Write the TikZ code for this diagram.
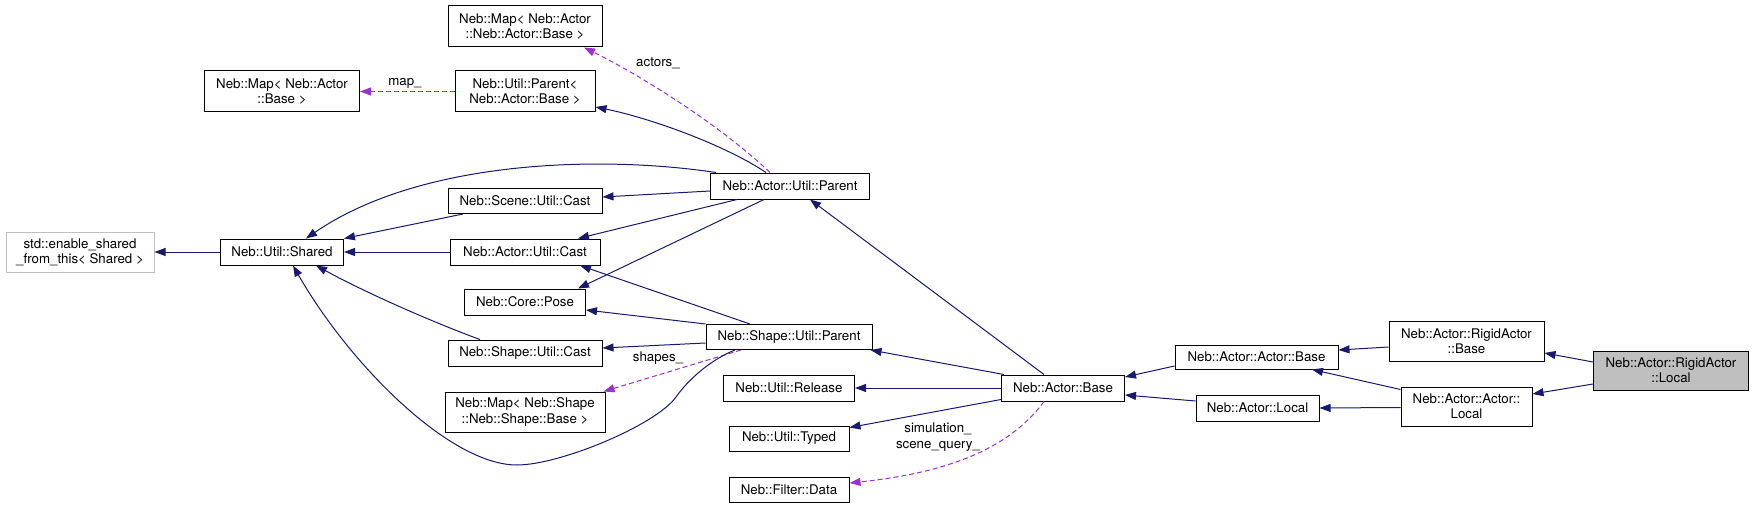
\documentclass[tikz,border=0pt]{standalone}
\usepackage{fontspec}
\setmainfont{TeX Gyre Heros}
\usetikzlibrary{arrows.meta}
\definecolor{edgeblue}{HTML}{191970}
\definecolor{usepurple}{HTML}{9A32CD}
\definecolor{grayline}{HTML}{BFBFBF}
\definecolor{grayfill}{HTML}{BFBFBF}
\tikzset{
  cls/.style={draw=black, line width=1pt, fill=white, inner sep=0pt, align=center,
    font=\fontsize{13.3}{15.3}\selectfont, text=black},
  inh/.style={draw=edgeblue, line width=1pt, -{Triangle[length=11pt,width=8pt]}},
  usage/.style={draw=usepurple, line width=1pt, dash pattern=on 5pt off 3pt,
    -{Triangle[length=11pt,width=8pt]}},
  lbl/.style={inner sep=0pt, align=center, font=\fontsize{13.3}{15.3}\selectfont, text=black}
}
\begin{document}
\begin{tikzpicture}[x=1pt,y=-1pt]
\useasboundingbox[fill=white] (0,0) rectangle (1755,508);
% nodes
\node[cls, minimum width=154pt, minimum height=41pt] (mapActor) at (525,26.5) {Neb::Map< Neb::Actor\\::Neb::Actor::Base >};
\node[cls, minimum width=155pt, minimum height=41pt] (mapBase) at (282,91.5) {Neb::Map< Neb::Actor\\::Base >};
\node[cls, minimum width=140pt, minimum height=41pt] (utilParent) at (525,91.5) {Neb::Util::Parent<\\Neb::Actor::Base >};
\node[cls, minimum width=159pt, minimum height=26pt] (actorParent) at (790,186) {Neb::Actor::Util::Parent};
\node[cls, minimum width=154pt, minimum height=25pt] (sceneCast) at (525,201) {Neb::Scene::Util::Cast};
\node[cls, draw=grayline, minimum width=148pt, minimum height=40pt] (enable) at (80,252) {std::enable\_shared\\\_from\_this< Shared >};
\node[cls, minimum width=123pt, minimum height=26pt] (shared) at (282,252) {Neb::Util::Shared};
\node[cls, minimum width=150pt, minimum height=26pt] (actorCast) at (525,252) {Neb::Actor::Util::Cast};
\node[cls, minimum width=121pt, minimum height=26pt] (pose) at (525,302) {Neb::Core::Pose};
\node[cls, minimum width=154pt, minimum height=26pt] (shapeCast) at (525,353) {Neb::Shape::Util::Cast};
\node[cls, minimum width=160pt, minimum height=40pt] (mapShape) at (525,412) {Neb::Map< Neb::Shape\\::Neb::Shape::Base >};
\node[cls, minimum width=166pt, minimum height=25pt] (shapeParent) at (789,337) {Neb::Shape::Util::Parent};
\node[cls, minimum width=131pt, minimum height=26pt] (release) at (789,388) {Neb::Util::Release};
\node[cls, minimum width=120pt, minimum height=25pt] (typed) at (789,438.5) {Neb::Util::Typed};
\node[cls, minimum width=120pt, minimum height=25pt] (filter) at (789,489.5) {Neb::Filter::Data};
\node[cls, minimum width=123pt, minimum height=26pt] (actorBase) at (1063,388) {Neb::Actor::Base};
\node[cls, minimum width=163pt, minimum height=24pt] (aaBase) at (1256.5,357) {Neb::Actor::Actor::Base};
\node[cls, minimum width=123pt, minimum height=26pt] (aLocal) at (1257.5,408) {Neb::Actor::Local};
\node[cls, minimum width=155pt, minimum height=40pt] (raBase) at (1466.5,341) {Neb::Actor::RigidActor\\::Base};
\node[cls, minimum width=131pt, minimum height=39pt] (aaLocal) at (1466.5,406.5) {Neb::Actor::Actor::\\Local};
\node[cls, fill=grayfill, minimum width=155pt, minimum height=39pt] (raLocal) at (1671,370.5) {Neb::Actor::RigidActor\\::Local};
% edges
\draw[inh] ([yshift=8.5pt]raLocal.west) -- ([yshift=-12pt]raBase.east);
\draw[inh] ([yshift=-13.5pt]raLocal.west) -- ([yshift=12.5pt]aaLocal.east);
\draw[inh] ([yshift=-6pt]raBase.west) -- ([yshift=7pt]aaBase.east);
\draw[inh] ([yshift=-3pt]aaLocal.north west) -- ([xshift=55.5pt]aaBase.south);
\draw[inh] ([yshift=-1pt]aaLocal.west) -- (aLocal.east);
\draw[inh] ([yshift=-9pt]aaBase.west) -- ([yshift=11pt]actorBase.east);
\draw[inh] ([yshift=7pt]aLocal.west) -- ([yshift=-7pt]actorBase.east);
\draw[inh] ([xshift=-19pt]actorBase.north) -- ([xshift=20pt]actorParent.south);
\draw[inh] ([xshift=3pt]actorBase.north west) -- ([xshift=-2pt]shapeParent.south east);
\draw[inh] (actorBase.west) -- (release.east);
\draw[inh] ([yshift=2pt]actorBase.south west) -- ([yshift=-2pt]typed.north east);
\draw[usage] ([xshift=-19pt]actorBase.south) .. controls (1012,445) and (955,472) .. ([yshift=6.5pt]filter.east);
\node[lbl] (lblSim) at (938,437) {simulation\_\\scene\_query\_};
\draw[inh] ([xshift=-24pt]actorParent.north) .. controls (725,145) and (650,118) .. ([yshift=-15.5pt]utilParent.east);
\draw[usage] ([xshift=-20pt]actorParent.north) .. controls (720,125) and (640,75) .. ([xshift=59pt]mapActor.south);
\node[lbl] (lblActors) at (658,63) {actors\_};
\draw[inh] ([xshift=-74pt]actorParent.north) .. controls (600,155) and (420,160) .. ([xshift=24pt]shared.north);
\draw[inh] ([yshift=-5pt]actorParent.west) -- ([yshift=4pt]sceneCast.east);
\draw[inh] ([xshift=-53pt]actorParent.south) -- ([xshift=53pt]actorCast.north);
\draw[inh] ([xshift=-26pt]actorParent.south) -- ([xshift=53pt]pose.north);
\draw[inh] ([xshift=-39pt]shapeParent.north) -- ([xshift=55pt]actorCast.south);
\draw[inh] (shapeParent.north west) -- ([yshift=-8pt]pose.east);
\draw[inh] ([yshift=-6pt]shapeParent.west) -- ([yshift=5pt]shapeCast.east);
\draw[usage] ([xshift=-48pt]shapeParent.south) -- ([xshift=-2pt]mapShape.north east);
\node[lbl] (lblShapes) at (658,358) {shapes\_};
\draw[inh] ([xshift=-54pt]shapeParent.south) .. controls (710,360) and (688,380) .. (676,397)
  .. controls (656,425) and (560,465) .. (517,465)
  .. controls (450,465) and (350,365) .. ([xshift=11pt]shared.south);
\draw[inh] ([xshift=-62pt]sceneCast.south) -- (shared.north east);
\draw[inh] (actorCast.west) -- (shared.east);
\draw[inh] ([xshift=-45pt]shapeCast.north) .. controls (440,325) and (370,295) .. ([xshift=34pt]shared.south);
\draw[inh] (shared.west) -- (enable.east);
\draw[usage] (utilParent.west) -- (mapBase.east);
\node[lbl] (lblMap) at (405,83) {map\_};
\end{tikzpicture}
\end{document}
